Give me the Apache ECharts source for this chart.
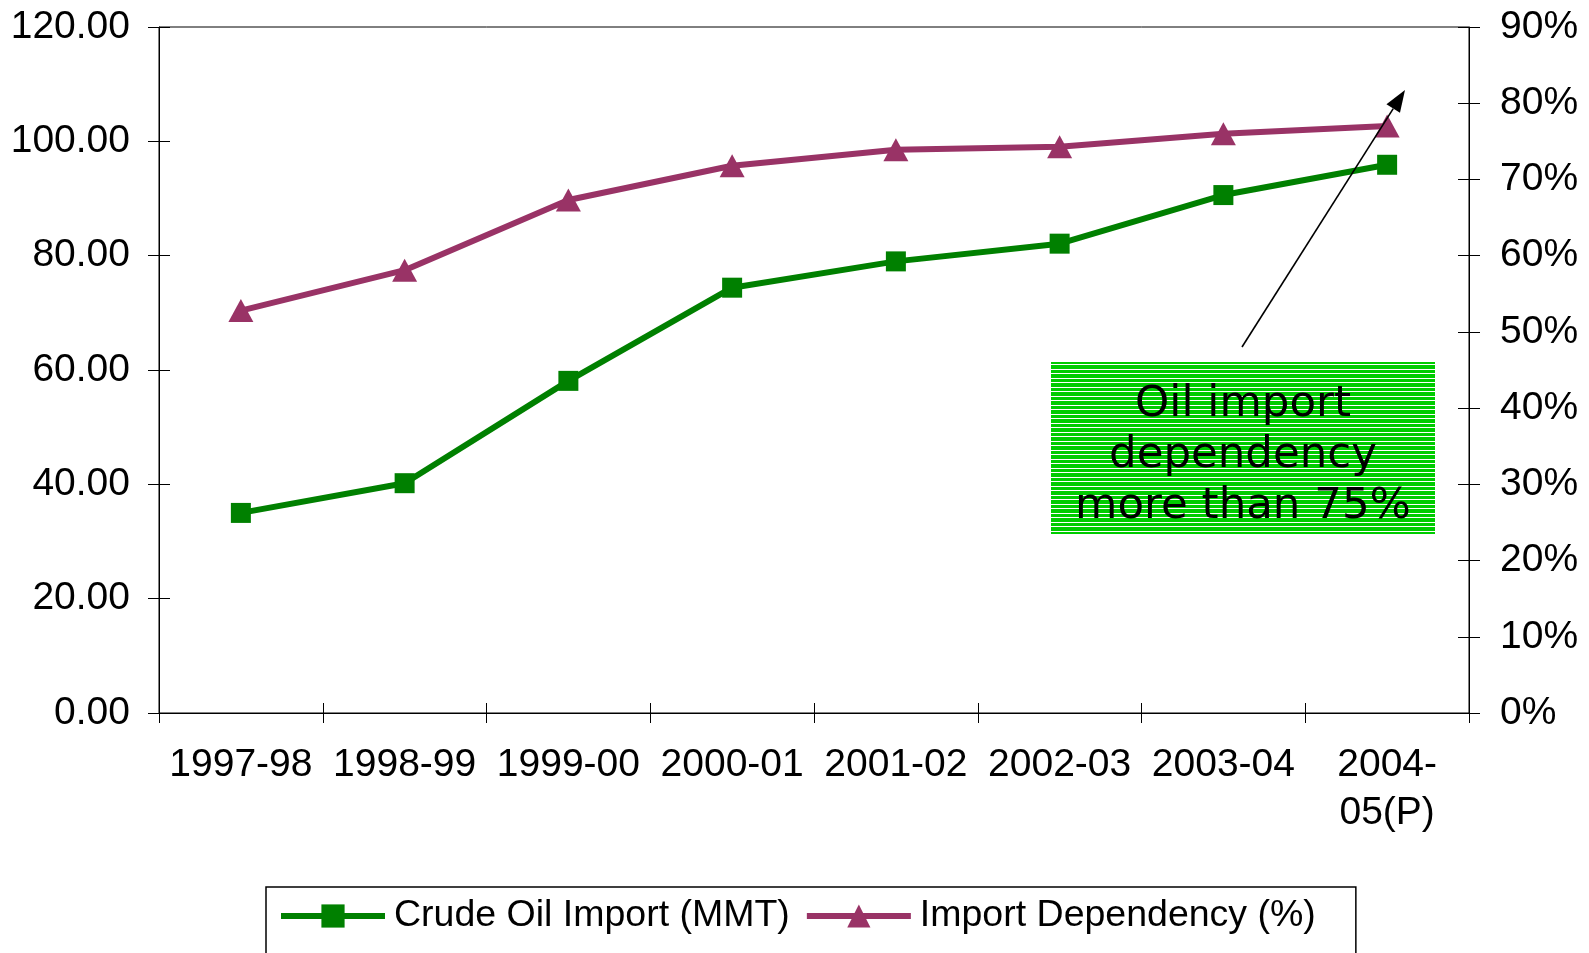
<!DOCTYPE html>
<html><head><meta charset="utf-8">
<script src="https://cdn.jsdelivr.net/npm/echarts@6/dist/echarts.min.js"></script>
<style>html,body{margin:0;padding:0;background:#fff}#c{width:1589px;height:953px}</style>
</head><body><div id="c"></div>
<script>
// ---- data ----
const categories = ['1997-98','1998-99','1999-00','2000-01','2001-02','2002-03','2003-04','2004-\n05(P)'];
const crudeOilImport = [35.0, 40.2, 58.1, 74.4, 79.0, 82.1, 90.6, 95.9];
const importDependency = [52.8, 58.1, 67.3, 71.8, 73.9, 74.3, 76.0, 77.0];
const seriesNames = ['Crude Oil Import (MMT)', 'Import Dependency (%)'];
const leftScale = {min: 0, max: 120, interval: 20};
const rightScale = {min: 0, max: 90, interval: 10};
const annotationLines = ['Oil import', 'dependency', 'more than 75%'];

const FONT = '"Liberation Sans", Arial, sans-serif';
const GREEN = '#008000', PLUM = '#993366';

// striped green pattern for the annotation box
const pc = document.createElement('canvas');
pc.width = 8; pc.height = 9;
const pctx = pc.getContext('2d');
pctx.fillStyle = '#00cc00'; pctx.fillRect(0,0,8,9);
pctx.fillStyle = '#ffffff'; pctx.fillRect(0,0,8,1); pctx.fillRect(0,4,8,1);

// arrow geometry (annotation)
const aStart = [1242, 347], aTip = [1405, 90];
const dx = aTip[0]-aStart[0], dy = aTip[1]-aStart[1], dl = Math.hypot(dx,dy);
const ux = dx/dl, uy = dy/dl, L = 22, W = 8;
const bx = aTip[0]-L*ux, by = aTip[1]-L*uy;
const headPts = [[aTip[0],aTip[1]],[bx - W*uy, by + W*ux],[bx + W*uy, by - W*ux]];

const axisLbl = {color:'#000', fontFamily: FONT, fontSize: 39};
const chart = echarts.init(document.getElementById('c'), null, {renderer:'canvas'});
chart.setOption({
  animation: false,
  backgroundColor: '#fff',
  grid: {left: 159, right: 120, top: 27, bottom: 240, show: true, borderColor: '#000', borderWidth: 1, backgroundColor: 'transparent', containLabel: false},
  legend: {
    left: 266, top: 887,
    data: [
      {name: seriesNames[0], lineStyle: {width: 6, color: GREEN}},
      {name: seriesNames[1], lineStyle: {width: 6, color: PLUM}}
    ],
    itemWidth: 104, itemHeight: 29, itemGap: 14,
    borderColor: '#000', borderWidth: 1.5,
    padding: [10, 40, 40, 12],
    textStyle: {color:'#000', fontFamily: FONT, fontSize: 37.5, padding: [0,0,0,4]}
  },
  xAxis: [{
    type: 'category', data: categories, position: 'bottom', boundaryGap: true,
    axisLine: {lineStyle: {color:'#000', width: 1}},
    axisTick: {show: true, interval: 0, length: 10, lineStyle: {color:'#000'}},
    axisLabel: Object.assign({interval: 0, margin: 28, lineHeight: 48}, axisLbl),
    splitLine: {show: false}
  }, {
    type: 'category', data: categories, position: 'bottom', boundaryGap: true,
    axisLine: {show: false},
    axisTick: {show: true, inside: true, interval: 0, length: 10, lineStyle: {color:'#000'}},
    axisLabel: {show: false}, splitLine: {show: false}
  }],
  yAxis: [{
    type: 'value', position: 'left', min: leftScale.min, max: leftScale.max, interval: leftScale.interval,
    axisLine: {show: true, lineStyle: {color:'#000'}},
    axisTick: {show: true, length: 11, lineStyle: {color:'#000'}},
    axisLabel: Object.assign({margin: 29, formatter: v => v.toFixed(2)}, axisLbl),
    splitLine: {show: false}
  }, {
    type: 'value', position: 'right', min: rightScale.min, max: rightScale.max, interval: rightScale.interval,
    axisLine: {show: true, lineStyle: {color:'#000'}},
    axisTick: {show: true, length: 11, lineStyle: {color:'#000'}},
    axisLabel: Object.assign({margin: 31, formatter: '{value}%'}, axisLbl),
    splitLine: {show: false}
  }, {
    type: 'value', position: 'left', min: leftScale.min, max: leftScale.max, interval: leftScale.interval,
    axisLine: {show: false}, axisTick: {show: true, inside: true, length: 11, lineStyle: {color:'#000'}},
    axisLabel: {show: false}, splitLine: {show: false}
  }, {
    type: 'value', position: 'right', min: rightScale.min, max: rightScale.max, interval: rightScale.interval,
    axisLine: {show: false}, axisTick: {show: true, inside: true, length: 11, lineStyle: {color:'#000'}},
    axisLabel: {show: false}, splitLine: {show: false}
  }],
  series: [{
    name: seriesNames[0], type: 'line', xAxisIndex: 0, yAxisIndex: 0, data: crudeOilImport,
    symbol: 'rect', symbolSize: 20,
    lineStyle: {color: GREEN, width: 6}, itemStyle: {color: GREEN}, z: 3
  }, {
    name: seriesNames[1], type: 'line', xAxisIndex: 0, yAxisIndex: 1, data: importDependency,
    symbol: 'triangle', symbolSize: [25, 23],
    lineStyle: {color: PLUM, width: 6}, itemStyle: {color: PLUM}, z: 3
  }],
  graphic: [
    {type: 'rect', shape: {x: 1051, y: 362, width: 384, height: 172}, style: {fill: {image: pc, repeat: 'repeat'}}, z: 10},
    {type: 'text', x: 1243, y: 456, style: {text: annotationLines.join('\n'), fill: '#000', font: '43.5px "DejaVu Sans", Verdana, sans-serif', lineHeight: 51, align: 'center', verticalAlign: 'middle'}, z: 11},
    {type: 'line', shape: {x1: aStart[0], y1: aStart[1], x2: bx, y2: by}, style: {stroke: '#000', lineWidth: 1.6}, z: 12},
    {type: 'polygon', shape: {points: headPts}, style: {fill: '#000'}, z: 12}
  ]
});
</script></body></html>
